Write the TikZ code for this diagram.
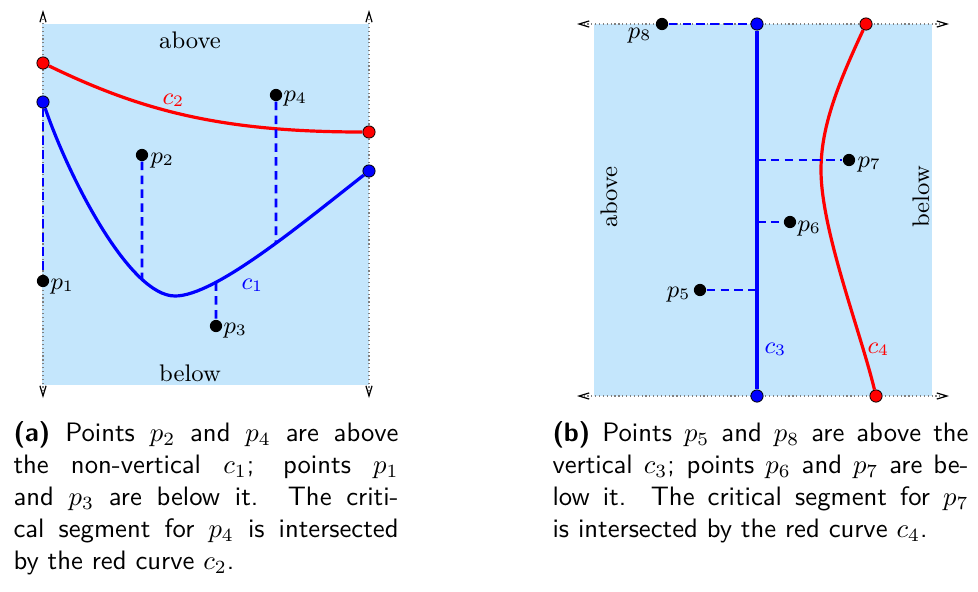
\documentclass[tikz,border=0pt]{standalone}
\usetikzlibrary{arrows.meta,intersections}
\definecolor{bgblue}{RGB}{196,230,252}
\begin{document}
\begin{tikzpicture}[x=0.375pt,y=-0.375pt,
  region/.style={fill=bgblue,draw=none},
  barb/.tip={Straight Barb[length=3.8pt,width=2.3pt,color=black,line width=0.45pt]},
  axisline/.style={densely dotted,draw=black!50,line width=0.45pt,barb-barb},
  curveb/.style={draw=blue,line width=1.2pt},
  curver/.style={draw=red,line width=1.2pt},
  crit/.style={draw=blue,line width=1.1pt,dash pattern=on 3.2pt off 2pt},
  dot/.style={circle,fill=black,inner sep=0pt,minimum size=4.6pt},
  endb/.style={circle,fill=blue,draw=black,line width=0.3pt,inner sep=0pt,minimum size=4.6pt},
  endr/.style={circle,fill=red,draw=black,line width=0.3pt,inner sep=0pt,minimum size=4.6pt},
  lab/.style={inner sep=0pt,font=\small},
  captext/.style={inner sep=0pt,anchor=north west,align=justify,font=\sffamily}
]
\useasboundingbox (0,0) rectangle (978,591);

% ---------- panel (a) ----------
\fill[region] (42,24) rectangle (369,385);
\coordinate (aLb) at (43,398);
\coordinate (aLt) at (43,10);
\coordinate (aRb) at (369,398);
\coordinate (aRt) at (369,10);
\draw[axisline] (aLb) -- (aLt);
\draw[axisline] (aRb) -- (aRt);

\node[lab] (above1) at (190,40) {above};
\node[lab] (below1) at (190,373) {below};

\node[endr] (r2l) at (43,63) {};
\node[endr] (r2r) at (369,132) {};
\node[endb] (b1l) at (43,102) {};
\node[endb] (b1r) at (369,171) {};
\coordinate (c1min) at (175,296);

\node[dot] (p1) at (43,281) {};
\node[dot] (p2) at (142,155) {};
\node[dot] (p3) at (216,326) {};
\node[dot] (p4) at (276,95) {};

\draw[curver] (r2l) .. controls (140,110) and (220,132) .. (r2r);
\draw[curveb,name path=c1] (b1l) .. controls (70,180) and (130,296) .. (c1min)
   .. controls (215,296) and (300,225) .. (b1r);

\path[name path=v2] (p2) -- ++(0,250);
\path[name intersections={of=c1 and v2,by=f2}];
\path[name path=v3] (p3) -- ++(0,-150);
\path[name intersections={of=c1 and v3,by=f3}];
\path[name path=v4] (p4) -- ++(0,250);
\path[name intersections={of=c1 and v4,by=f4}];

\draw[crit] (b1l) -- (p1);
\draw[crit] (p2) -- (f2);
\draw[crit] (f3) -- (p3);
\draw[crit] (p4) -- (f4);

\node[lab,anchor=base west] (lp1) at (50,289) {$p_1$};
\node[lab,anchor=base west] (lp2) at (150,163) {$p_2$};
\node[lab,anchor=base west] (lp3) at (223,333) {$p_3$};
\node[lab,anchor=base west] (lp4) at (283,101) {$p_4$};
\node[lab,anchor=base west,text=blue] (lc1) at (241,289) {$c_1$};
\node[lab,anchor=base west,text=red] (lc2) at (162,104) {$c_2$};

\node[captext,text width=144.4pt] (capa) at (13,421)
 {\textbf{(a)} Points $p_2$ and $p_4$ are above\linebreak
  the non-vertical $c_1$; points $p_1$\linebreak
  and $p_3$ are below it. The criti-\linebreak
  cal segment for $p_4$ is intersected\linebreak
  by the red curve $c_2$.};

% ---------- panel (b) ----------
\fill[region] (594,24) rectangle (932,396);
\coordinate (bTl) at (577,24);
\coordinate (bTr) at (949,24);
\coordinate (bBl) at (577,396);
\coordinate (bBr) at (949,396);
\draw[axisline] (bTl) -- (bTr);
\draw[axisline] (bBl) -- (bBr);

\node[lab,rotate=90] (above2) at (609,197) {above};
\node[lab,rotate=90] (below2) at (921,197) {below};

\node[endb] (b3t) at (757,24) {};
\node[endb] (b3b) at (757,396) {};
\node[endr] (r4t) at (866,24) {};
\node[endr] (r4b) at (876,396) {};
\coordinate (c4mid) at (821,170);

\node[dot] (p5) at (700,290) {};
\node[dot] (p6) at (790,222) {};
\node[dot] (p7) at (849,160) {};
\node[dot] (p8) at (662,24) {};

\draw[curveb] (b3t) -- (b3b);
\draw[curver] (r4t) .. controls (835,90) and (821,130) .. (c4mid)
   .. controls (821,230) and (860,330) .. (r4b);

\draw[crit] (b3t |- p7) -- (p7);
\draw[crit] (b3t |- p6) -- (p6);
\draw[crit] (p5) -- (b3t |- p5);
\draw[crit] (p8) -- (b3t);

\node[lab,anchor=base east] (lp5) at (691,297) {$p_5$};
\node[lab,anchor=base west] (lp6) at (797,231) {$p_6$};
\node[lab,anchor=base west] (lp7) at (857,167) {$p_7$};
\node[lab,anchor=base east] (lp8) at (652,38) {$p_8$};
\node[lab,anchor=base west,text=blue] (lc3) at (764,353) {$c_3$};
\node[lab,anchor=base west,text=red] (lc4) at (867,353) {$c_4$};

\node[captext,text width=156pt] (capb) at (552,421)
 {\textbf{(b)} Points $p_5$ and $p_8$ are above the\linebreak
  vertical $c_3$; points $p_6$ and $p_7$ are be-\linebreak
  low it. The critical segment for $p_7$\linebreak
  is intersected by the red curve $c_4$.};
\end{tikzpicture}
\end{document}
